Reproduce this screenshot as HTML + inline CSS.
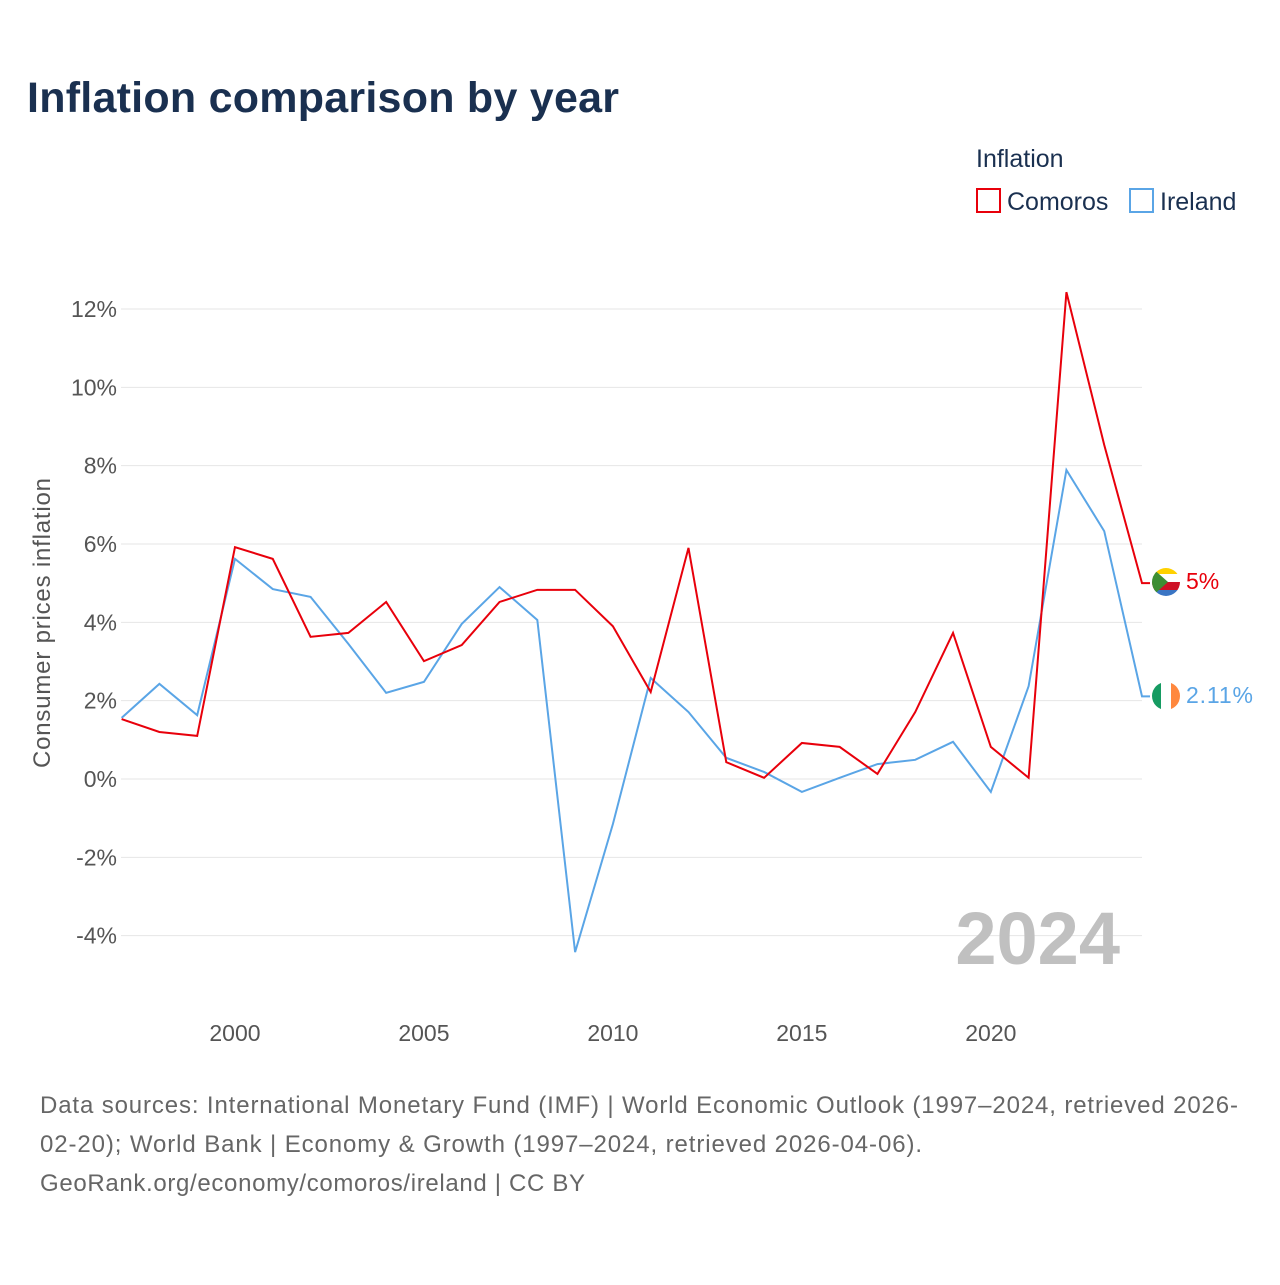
<!DOCTYPE html>
<html><head><meta charset="utf-8"><style>
body{margin:0;background:#fff;font-family:"Liberation Sans",sans-serif;}
</style></head><body>
<svg width="1280" height="1280" viewBox="0 0 1280 1280" xmlns="http://www.w3.org/2000/svg" font-family="Liberation Sans, sans-serif">
<rect width="1280" height="1280" fill="#fff"/>
<text x="27" y="112" font-size="43" font-weight="bold" fill="#1a3050" textLength="592">Inflation comparison by year</text>
<text x="976" y="167" font-size="25" fill="#1a3050">Inflation</text>
<g><rect x="977" y="189" width="23" height="23" fill="none" stroke="#e8000b" stroke-width="2"/><text x="1007" y="210" font-size="25" fill="#1a3050">Comoros</text></g>
<g><rect x="1130" y="189" width="23" height="23" fill="none" stroke="#5aa5e6" stroke-width="2"/><text x="1160" y="210" font-size="25" fill="#1a3050">Ireland</text></g>
<g id="grid"></g>
<g id="yt"></g>
<g id="xt"></g>
<text transform="translate(50,623) rotate(-90)" text-anchor="middle" font-size="24" fill="#555" textLength="290">Consumer prices inflation</text>
<text x="1120" y="964" text-anchor="end" font-size="74" font-weight="bold" fill="#c0c0c0">2024</text>
<g id="series"></g>
<g>
<clipPath id="c1"><circle cx="1166" cy="582" r="14"/></clipPath>
<g clip-path="url(#c1)"><rect x="1150" y="566" width="34" height="8" fill="#ffd100"/><rect x="1150" y="574" width="34" height="8" fill="#fff"/><rect x="1150" y="582" width="34" height="8" fill="#ce1126"/><rect x="1150" y="590" width="34" height="8" fill="#3a75c4"/><polygon points="1150,566 1168,582 1150,598" fill="#3d8e33"/></g></g>
<g>
<clipPath id="c2"><circle cx="1166" cy="696" r="14"/></clipPath>
<g clip-path="url(#c2)"><rect x="1150" y="680" width="11" height="32" fill="#169b62"/><rect x="1161" y="680" width="10" height="32" fill="#fff"/><rect x="1171" y="680" width="12" height="32" fill="#ff883e"/></g></g>
<text x="1186" y="589" font-size="23" fill="#e8000b">5%</text>
<text x="1186" y="703" font-size="23" fill="#5aa5e6" textLength="67">2.11%</text>
<g font-size="24" fill="#666">
<text x="40" y="1113" textLength="1198">Data sources: International Monetary Fund (IMF) | World Economic Outlook (1997–2024, retrieved 2026-</text>
<text x="40" y="1152" textLength="882">02-20); World Bank | Economy &amp; Growth (1997–2024, retrieved 2026-04-06).</text>
<text x="40" y="1191" textLength="545">GeoRank.org/economy/comoros/ireland | CC BY</text>
</g>
</svg>
<script>
const years=[1997,1998,1999,2000,2001,2002,2003,2004,2005,2006,2007,2008,2009,2010,2011,2012,2013,2014,2015,2016,2017,2018,2019,2020,2021,2022,2023,2024];
const comoros=[1.53,1.2,1.1,5.92,5.62,3.63,3.73,4.52,3.01,3.42,4.52,4.83,4.83,3.9,2.22,5.9,0.43,0.03,0.92,0.82,0.13,1.71,3.73,0.82,0.03,12.43,8.53,5.0];
const ireland=[1.56,2.43,1.63,5.62,4.85,4.65,3.45,2.2,2.48,3.96,4.9,4.06,-4.42,-1.15,2.58,1.71,0.54,0.18,-0.33,0.03,0.38,0.49,0.95,-0.33,2.37,7.89,6.33,2.11];
const yTicks=[-4,-2,0,2,4,6,8,10,12];
const xTicks=[2000,2005,2010,2015,2020];
const NS='http://www.w3.org/2000/svg';
const X=v=>121.6+(v-1997)*(1142-121.6)/27;
const Y=v=>779-v*(470/12);
const grid=document.getElementById('grid'),yt=document.getElementById('yt'),xt=document.getElementById('xt'),ser=document.getElementById('series');
yTicks.forEach(t=>{
 const l=document.createElementNS(NS,'line');
 
 
 l.setAttribute('x1',121);l.setAttribute('x2',1142);l.setAttribute('y1',Y(t));l.setAttribute('y2',Y(t));
 l.setAttribute('stroke','#e6e6e6');l.setAttribute('stroke-width','1');grid.appendChild(l);
 const tx=document.createElementNS(NS,'text');
 
 
 tx.setAttribute('x',117);tx.setAttribute('y',Y(t)+8);tx.setAttribute('text-anchor','end');
 tx.setAttribute('font-size','23');tx.setAttribute('fill','#555');tx.textContent=t+'%';yt.appendChild(tx);
});
xTicks.forEach(t=>{
 const tx=document.createElementNS(NS,'text');
 
 
 tx.setAttribute('x',X(t));tx.setAttribute('y',1041);tx.setAttribute('text-anchor','middle');
 tx.setAttribute('font-size','23');tx.setAttribute('fill','#555');tx.textContent=t;xt.appendChild(tx);
});
function line(vals,color,name){
 const p=document.createElementNS(NS,'polyline');
 
 
 let pts=vals.map((v,i)=>X(years[i])+','+Y(v));
 pts.push((X(years[years.length-1])+8)+','+Y(vals[vals.length-1]));
 p.setAttribute('points',pts.join(' '));
 p.setAttribute('fill','none');p.setAttribute('stroke',color);p.setAttribute('stroke-width','2');
 ser.appendChild(p);
}
line(ireland,'#5aa5e6','line-ireland');
line(comoros,'#e8000b','line-comoros');
</script>
</body></html>
